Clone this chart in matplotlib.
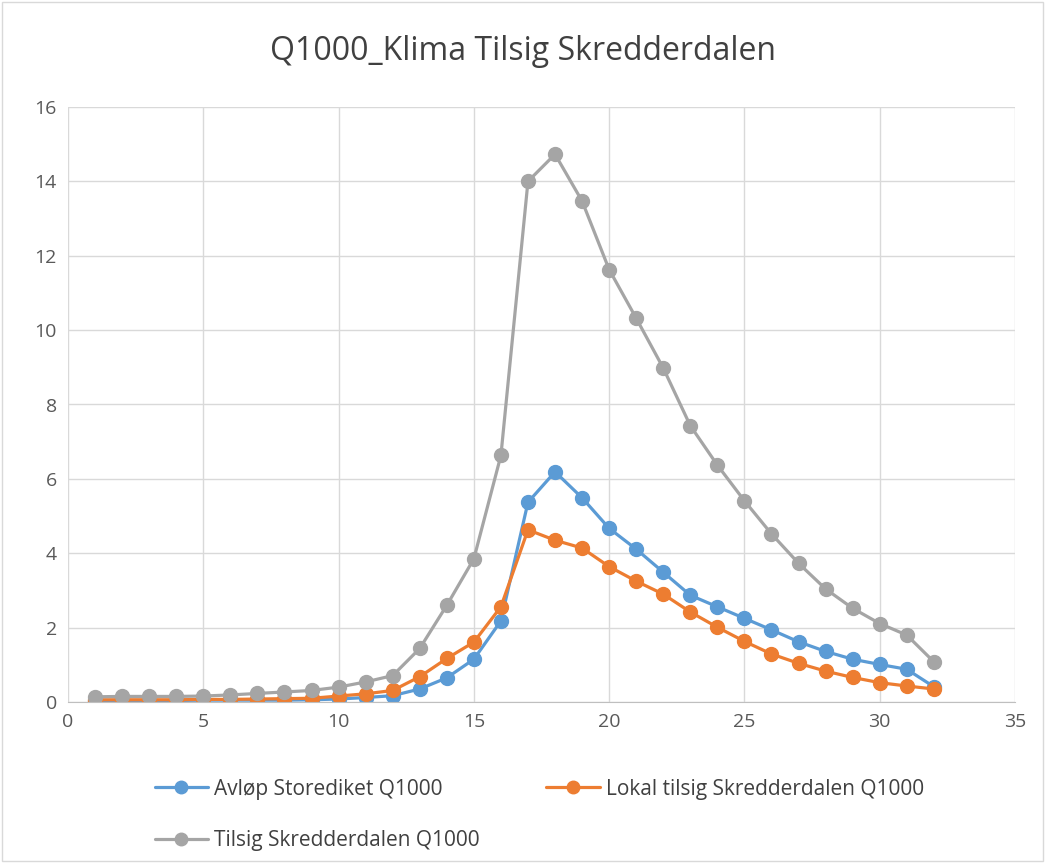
import numpy as np
from matplotlib import pyplot as plt

# --------------------- data -------------------------------
hours = list(range(1, 33))

avlop_storediket = [0.04, 0.04, 0.04, 0.04, 0.05, 0.05, 0.05, 0.05, 0.06, 0.08,
                    0.12, 0.17, 0.35, 0.65, 1.15, 2.18, 5.37, 6.19, 5.49, 4.67,
                    4.11, 3.49, 2.87, 2.56, 2.25, 1.94, 1.62, 1.36, 1.15, 1.01,
                    0.88, 0.41]
lokal_tilsig = [0.06, 0.06, 0.06, 0.06, 0.07, 0.07, 0.08, 0.09, 0.10, 0.16,
                0.22, 0.31, 0.68, 1.17, 1.61, 2.56, 4.63, 4.35, 4.14, 3.64,
                3.25, 2.90, 2.42, 2.01, 1.63, 1.29, 1.04, 0.83, 0.66, 0.52,
                0.43, 0.35]
tilsig_skredderdalen = [0.14, 0.15, 0.15, 0.15, 0.16, 0.19, 0.23, 0.27, 0.31, 0.40,
                        0.54, 0.71, 1.44, 2.60, 3.85, 6.63, 14.0, 14.73, 13.47, 11.63,
                        10.32, 8.98, 7.43, 6.37, 5.41, 4.52, 3.73, 3.04, 2.52, 2.11,
                        1.80, 1.08]

labels = ["Avløp Storediket Q1000", "Lokal tilsig Skredderdalen Q1000",
          "Tilsig Skredderdalen Q1000"]
colors = ["#5b9bd5", "#ed7d31", "#a5a5a5"]
title = "Q1000_Klima Tilsig Skredderdalen"

# --------------------- plot -------------------------------
plt.rcParams['font.family'] = ['Open Sans', 'DejaVu Sans']

fig = plt.figure(figsize=(10.45, 8.63), dpi=100)
ax = fig.add_axes([68 / 1045, 1 - 702 / 863, (1015 - 68) / 1045, (702 - 107) / 863])

series = [avlop_storediket, lokal_tilsig, tilsig_skredderdalen]
lines = []
for values, label, color in zip(series, labels, colors):
    ln, = ax.plot(hours, values, color=color, lw=2.3, marker="o", markersize=10,
                  label=label, solid_capstyle="round")
    lines.append(ln)

ax.set_xlim(0, 35)
ax.set_ylim(0, 16)
ax.set_xticks(np.arange(0, 36, 5))
ax.set_yticks(np.arange(0, 17, 2))
ax.grid(True, color="#d9d9d9", lw=1)
ax.set_axisbelow(True)
for side in ["top", "right", "left"]:
    ax.spines[side].set_visible(False)
ax.spines["bottom"].set_color("#bfbfbf")
ax.tick_params(length=0, labelsize=14, colors="#595959", pad=8)

fig.text(0.5, 1 - 52 / 863, title, ha="center", va="center",
         fontsize=23, color="#404040")

# legend is filled column by column, so reorder to read row by row
order = [0, 2, 1]
fig.legend([lines[i] for i in order], [labels[i] for i in order],
           loc="upper left", bbox_to_anchor=(136 / 1045, 1 - 760 / 863),
           ncol=2, frameon=False, fontsize=15, labelcolor="#404040",
           columnspacing=3.2, handlelength=2.55, handletextpad=0.3,
           labelspacing=1.45, markerscale=0.9)

# chart border
fig.patches.append(plt.Rectangle((0.002, 0.002), 0.996, 0.996, transform=fig.transFigure,
                                 fill=False, edgecolor="#d9d9d9", lw=1))

fig.savefig("out.png", dpi=100)
